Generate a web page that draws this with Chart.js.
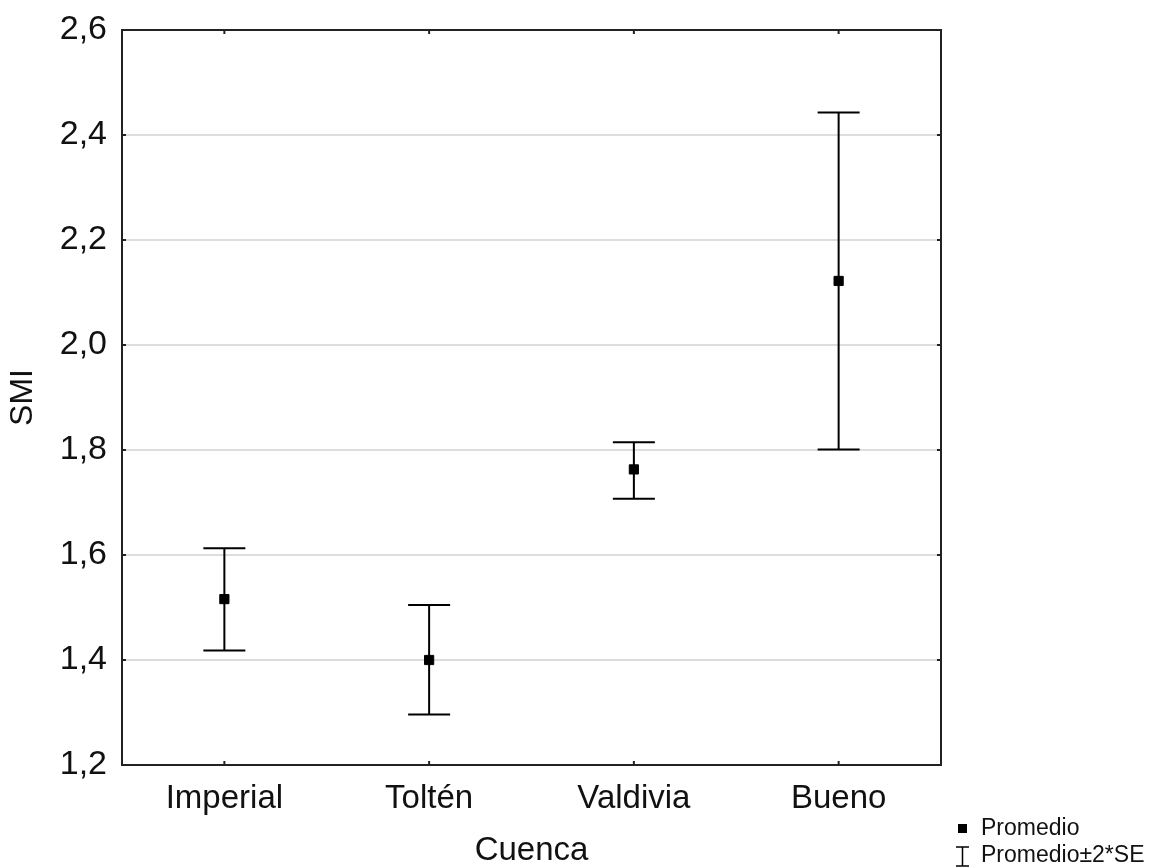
<!DOCTYPE html>
<html>
<head>
<meta charset="utf-8">
<script src="https://cdn.jsdelivr.net/npm/chart.js@4/dist/chart.umd.min.js"></script>
<style>
  html, body { margin: 0; padding: 0; background: #ffffff; }
  #wrap { position: relative; width: 1156px; height: 867px; }
</style>
</head>
<body>
<div id="wrap"><canvas id="c" width="1156" height="867"></canvas></div>
<script>
const categories = ['Imperial', 'Toltén', 'Valdivia', 'Bueno'];
const means = [1.516, 1.400, 1.763, 2.122];
const upper = [1.613, 1.505, 1.815, 2.443];
const lower = [1.418, 1.296, 1.707, 1.801];
const yTicks = [1.2, 1.4, 1.6, 1.8, 2.0, 2.2, 2.4, 2.6];
const yTitle = 'SMI';
const xTitle = 'Cuenca';
const legendLabels = ['Promedio', 'Promedio±2*SE'];

const FONT = '"Liberation Sans", Arial, sans-serif';

const errorBars = {
  id: 'errorBars',
  beforeDatasetsDraw(chart) {
    const ctx = chart.ctx, xs = chart.scales.x, ys = chart.scales.y;
    ctx.save();
    ctx.strokeStyle = '#000';
    ctx.lineWidth = 2;
    const half = 21;
    categories.forEach((c, i) => {
      const x = xs.getPixelForValue(i);
      const yt = ys.getPixelForValue(upper[i]);
      const yb = ys.getPixelForValue(lower[i]);
      ctx.beginPath();
      ctx.moveTo(x, yt); ctx.lineTo(x, yb);
      ctx.moveTo(x - half, yt); ctx.lineTo(x + half, yt);
      ctx.moveTo(x - half, yb); ctx.lineTo(x + half, yb);
      ctx.stroke();
    });
    ctx.restore();
  }
};

const frame = {
  id: 'frame',
  afterDatasetsDraw(chart) {
    const ctx = chart.ctx, a = chart.chartArea, xs = chart.scales.x, ys = chart.scales.y;
    ctx.save();
    ctx.strokeStyle = '#222';
    ctx.lineWidth = 2;
    ctx.strokeRect(a.left, a.top, a.right - a.left, a.bottom - a.top);
    ctx.beginPath();
    const tl = 4;
    categories.forEach((c, i) => {
      const x = xs.getPixelForValue(i);
      ctx.moveTo(x, a.bottom); ctx.lineTo(x, a.bottom - tl);
      ctx.moveTo(x, a.top); ctx.lineTo(x, a.top + tl);
    });
    yTicks.forEach(v => {
      const y = ys.getPixelForValue(v);
      ctx.moveTo(a.left, y); ctx.lineTo(a.left + tl, y);
      ctx.moveTo(a.right, y); ctx.lineTo(a.right - tl, y);
    });
    ctx.stroke();
    ctx.restore();
  }
};

const legendPlugin = {
  id: 'customLegend',
  afterDraw(chart) {
    const ctx = chart.ctx;
    ctx.save();
    ctx.fillStyle = '#000';
    ctx.strokeStyle = '#000';
    ctx.lineWidth = 1.5;
    ctx.fillRect(958, 824, 9, 9);
    ctx.beginPath();
    ctx.moveTo(956, 847); ctx.lineTo(969, 847);
    ctx.moveTo(962.5, 847); ctx.lineTo(962.5, 866);
    ctx.moveTo(956, 866); ctx.lineTo(969, 866);
    ctx.stroke();
    ctx.font = '23px ' + FONT;
    ctx.textBaseline = 'middle';
    ctx.textAlign = 'left';
    ctx.fillStyle = '#111';
    ctx.fillText(legendLabels[0], 981, 829);
    ctx.fillText(legendLabels[1], 981, 856);
    ctx.restore();
  }
};

new Chart(document.getElementById('c'), {
  type: 'line',
  data: {
    labels: categories,
    datasets: [{
      label: legendLabels[0],
      data: means,
      showLine: false,
      pointStyle: 'rect',
      pointRadius: 6.5,
      pointHoverRadius: 6.5,
      backgroundColor: '#000',
      borderColor: '#000',
      borderWidth: 1
    }]
  },
  options: {
    responsive: false,
    animation: false,
    events: [],
    layout: { padding: { left: 0, right: 215, top: 30, bottom: 0 } },
    plugins: { legend: { display: false }, tooltip: { enabled: false } },
    scales: {
      x: {
        type: 'category',
        offset: true,
        grid: { display: false, drawTicks: false },
        border: { display: false },
        ticks: { color: '#111', font: { family: FONT, size: 33 }, padding: 14 },
        title: { display: true, text: xTitle, color: '#111', font: { family: FONT, size: 33, lineHeight: 1 }, padding: { top: 0, bottom: 0 } },
        afterFit(s) { s.height = 102; s.paddingLeft = 0; s.paddingRight = 0; }
      },
      y: {
        type: 'linear',
        min: 1.2, max: 2.6,
        afterBuildTicks(s) { s.ticks = yTicks.map(v => ({ value: v })); },
        grid: { color: '#dddddd', lineWidth: 2, drawTicks: false },
        border: { display: false },
        ticks: {
          color: '#111', font: { family: FONT, size: 34 }, padding: 15,
          callback: v => v.toFixed(1).replace('.', ',')
        },
        title: { display: true, text: yTitle, color: '#111', font: { family: FONT, size: 32, lineHeight: 1 }, padding: { top: 7, bottom: 0 } },
        afterFit(s) { s.width = 122; s.paddingTop = 0; s.paddingBottom = 0; }
      }
    }
  },
  plugins: [errorBars, frame, legendPlugin]
});
</script>
</body>
</html>
